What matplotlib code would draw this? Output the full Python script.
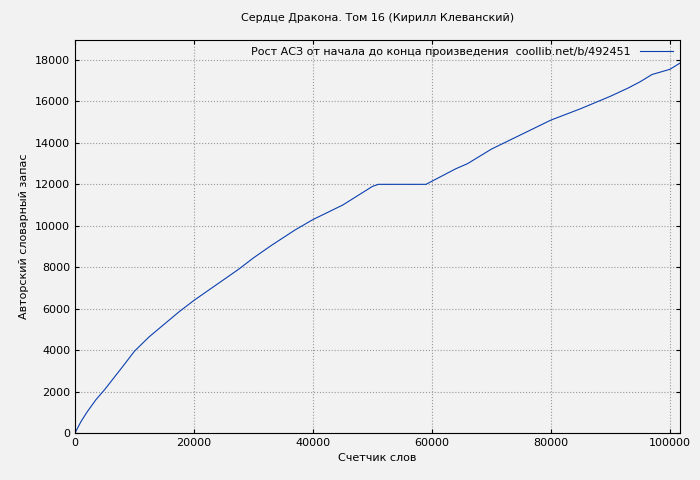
import matplotlib
matplotlib.use("Agg")
import matplotlib.pyplot as plt

words = [0, 1000, 2000, 3500, 5000, 6500, 8000, 10000, 12500, 15000, 17500, 20000, 22500,
         25000, 27500, 30000, 33000, 37000, 40000, 42500, 45000, 47500, 50000, 51000,
         55000, 59000, 60000, 62000, 64000, 66000, 68000, 70000, 75000, 80000, 85000,
         90000, 93000, 95000, 97000, 100000, 101700]
vocab = [0, 550, 1000, 1600, 2100, 2650, 3200, 3950, 4650, 5250, 5850, 6400, 6900,
         7400, 7900, 8450, 9050, 9800, 10300, 10650, 11000, 11450, 11900, 12000,
         12000, 12000, 12150, 12450, 12750, 13000, 13350, 13700, 14400, 15100, 15650,
         16250, 16650, 16950, 17300, 17550, 17850]

plt.rcParams['font.family'] = ['DejaVu Sans']
fig = plt.figure(figsize=(7, 4.8), dpi=100, facecolor='#f2f2f2')
ax = fig.add_axes([75/700, 1-433/480, 605/700, 393/480], facecolor='#f2f2f2')
ax.plot(words, vocab, color='#0b3fb0', linewidth=0.8,
        label='Рост АСЗ от начала до конца произведения  coollib.net/b/492451')
ax.set_xlim(0, 101700)
ax.set_ylim(0, 18965)
ax.set_xticks(range(0, 100001, 20000))
ax.set_yticks(range(0, 18001, 2000))
ax.grid(True, color='#999999', linestyle=':', linewidth=0.8)
ax.tick_params(labelsize=8, direction='in', length=3, top=True, right=True)
ax.set_title('Сердце Дракона. Том 16 (Кирилл Клеванский)', fontsize=8, pad=14)
ax.set_xlabel('Счетчик слов', fontsize=8)
ax.set_ylabel('Авторский словарный запас', fontsize=8)
ax.legend(loc='upper right', frameon=False, fontsize=8, handlelength=3,
          borderaxespad=0.2, markerfirst=False)
fig.savefig('out.png', dpi=100, facecolor='#f2f2f2')
